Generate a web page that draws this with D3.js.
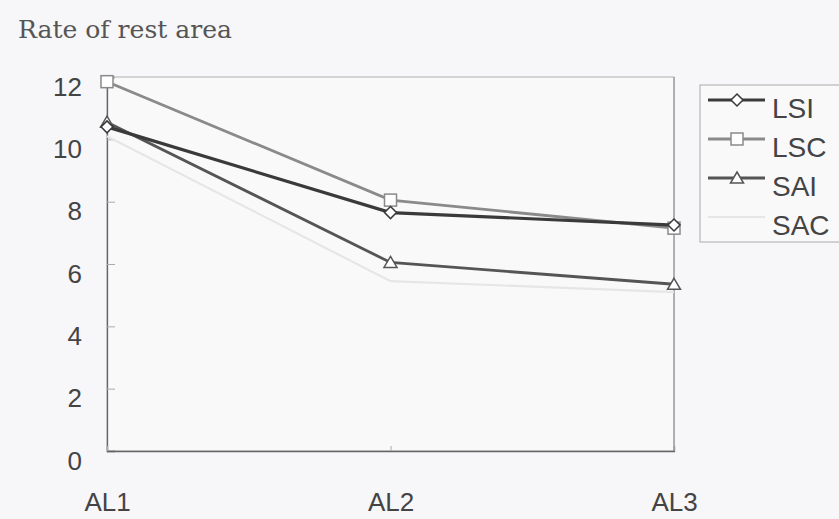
<!DOCTYPE html>
<html><head><meta charset="utf-8">
<script src="https://cdn.jsdelivr.net/npm/d3@7"></script>
<style>
html,body{margin:0;padding:0;background:#f7f6f8;}
svg{display:block;}
</style></head>
<body>
<svg id="chart" width="839" height="519"></svg>
<script>
const categories = ["AL1", "AL2", "AL3"];
const seriesNames = ["LSI", "LSC", "SAI", "SAC"];
const LSI = [10.4, 7.65, 7.25];
const LSC = [11.85, 8.05, 7.15];
const SAI = [10.55, 6.05, 5.35];
const SAC = [10.1, 5.45, 5.1];
const yTicks = [0, 2, 4, 6, 8, 10, 12];
const title = "Rate of rest area";

const seriesData = [LSI, LSC, SAI, SAC];
const styles = {
  LSI: {color: "#3a3a3a", width: 3.2, marker: "diamond"},
  LSC: {color: "#8a8a8a", width: 2.8, marker: "square"},
  SAI: {color: "#555555", width: 2.8, marker: "triangle"},
  SAC: {color: "#e6e6e8", width: 2.2, marker: "none"}
};

const svg = d3.select("#chart");
const m = {left: 107, right: 839 - 674, top: 77, bottom: 519 - 451};
const W = 839, H = 519;

const x = d3.scalePoint().domain(categories).range([m.left, W - m.right]);
const y = d3.scaleLinear().domain([0, 12]).range([H - m.bottom, m.top]);

svg.append("rect").attr("x", m.left).attr("y", m.top)
  .attr("width", W - m.right - m.left).attr("height", H - m.bottom - m.top)
  .attr("fill", "#f9f9fa").attr("stroke", "#b0b0b0").attr("stroke-width", 1);

const yAxis = d3.axisLeft(y).tickValues(yTicks).tickSize(-8).tickPadding(0).tickFormat(d3.format("d"));
const gy = svg.append("g").attr("transform", `translate(${m.left},0)`).call(yAxis);
gy.select(".domain").attr("stroke", "#666").attr("stroke-width", 1.3);
gy.selectAll(".tick line").attr("stroke", "#aaa");
gy.selectAll(".tick text").attr("x", -25).attr("dy", "0.35em").attr("y", 9)
  .attr("font-family", "Liberation Sans, Arial, sans-serif").attr("font-size", 26).attr("fill", "#444");

const xAxis = d3.axisBottom(x).tickSize(-5).tickPadding(0);
const gx = svg.append("g").attr("transform", `translate(0,${H - m.bottom})`).call(xAxis);
gx.select(".domain").attr("stroke", "#666").attr("stroke-width", 1.3);
gx.selectAll(".tick line").attr("stroke", "#aaa");
gx.selectAll(".tick text").attr("y", 60).attr("dy", 0)
  .attr("font-family", "Liberation Sans, Arial, sans-serif").attr("font-size", 26).attr("fill", "#444");

svg.append("line").attr("x1", W - m.right).attr("x2", W - m.right).attr("y1", m.top).attr("y2", H - m.bottom)
  .attr("stroke", "#8a8a8a").attr("stroke-width", 1);

const line = d3.line().x((d, i) => x(categories[i])).y(d => y(d));

function drawMarker(g, type, cx, cy, stroke) {
  if (type === "diamond") {
    g.append("path").attr("d", `M${cx},${cy-6}L${cx+6},${cy}L${cx},${cy+6}L${cx-6},${cy}Z`)
      .attr("fill", "#fff").attr("stroke", stroke).attr("stroke-width", 1.5);
  } else if (type === "square") {
    g.append("rect").attr("x", cx - 6).attr("y", cy - 6).attr("width", 12).attr("height", 12)
      .attr("fill", "#fff").attr("stroke", stroke).attr("stroke-width", 1.5);
  } else if (type === "triangle") {
    g.append("path").attr("d", `M${cx},${cy-6}L${cx+6.5},${cy+5}L${cx-6.5},${cy+5}Z`)
      .attr("fill", "#fff").attr("stroke", stroke).attr("stroke-width", 1.5);
  }
}

const order = ["SAC", "SAI", "LSC", "LSI"];
order.forEach(name => {
  const vals = seriesData[seriesNames.indexOf(name)];
  const st = styles[name];
  const g = svg.append("g");
  g.append("path").datum(vals).attr("d", line).attr("fill", "none")
    .attr("stroke", st.color).attr("stroke-width", st.width);
  vals.forEach((v, i) => drawMarker(g, st.marker, x(categories[i]), y(v), st.color));
});

const lg = svg.append("g");
lg.append("rect").attr("x", 700).attr("y", 85).attr("width", 145).attr("height", 157)
  .attr("fill", "#f9f9fa").attr("stroke", "#aaa").attr("stroke-width", 1);
seriesNames.forEach((name, i) => {
  const st = styles[name];
  const ly = 100 + i * 39;
  lg.append("line").attr("x1", 708).attr("x2", 765).attr("y1", ly).attr("y2", ly)
    .attr("stroke", st.color).attr("stroke-width", st.width);
  drawMarker(lg, st.marker, 737, ly, st.color);
  lg.append("text").attr("x", 772).attr("y", ly + 18).text(name)
    .attr("font-family", "Liberation Sans, Arial, sans-serif").attr("font-size", 28).attr("fill", "#444");
});

svg.append("text").attr("x", 18).attr("y", 38).text(title)
  .attr("font-family", "DejaVu Serif, serif").attr("font-size", 24).attr("fill", "#555")
  .attr("textLength", 214).attr("lengthAdjust", "spacingAndGlyphs");
</script>
</body></html>
